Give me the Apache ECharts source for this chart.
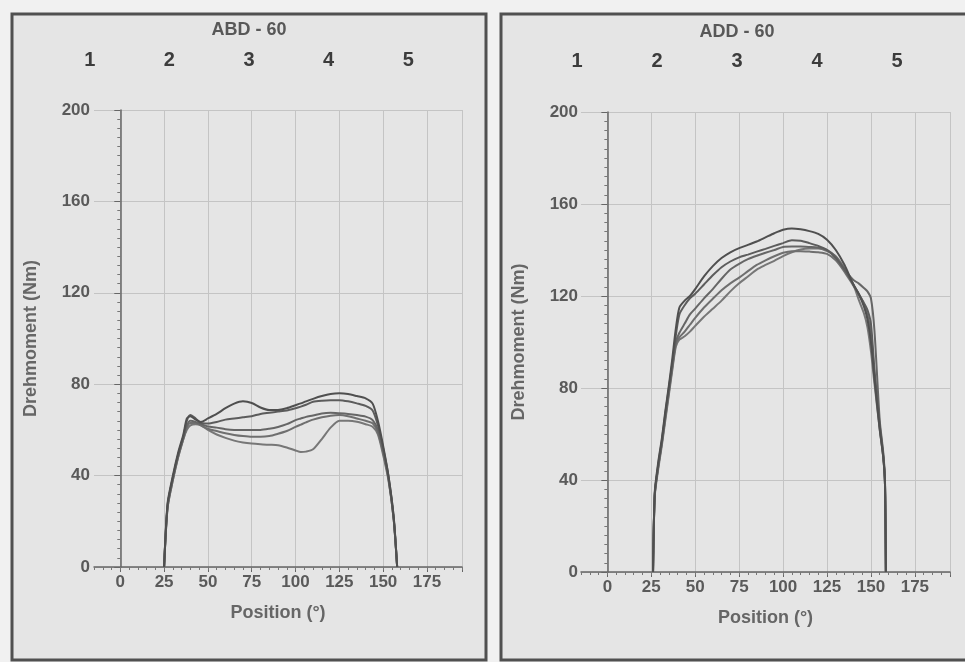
<!DOCTYPE html>
<html><head><meta charset="utf-8">
<script src="https://cdn.jsdelivr.net/npm/echarts@6/dist/echarts.min.js"></script>
<style>html,body{margin:0;padding:0;background:#f1f1f1}#c{width:965px;height:662px}</style>
</head><body><div id="c"></div>
<script>
// ---- tick labels / categories ----
const topLabels = ['1', '2', '3', '4', '5'];
const xTickValues = [0, 25, 50, 75, 100, 125, 150, 175];
const xGridValues = [0, 25, 50, 75, 100, 125, 150, 175, 195];
const titles = ['ABD - 60', 'ADD - 60'];

// ---- ABD - 60 : position (deg) and torque (Nm) of the 5 repetitions ----
const abdPos = [25,27,30,33,36,38,40,43,46,50,55,60,65,70,75,80,85,90,95,100,103,106,110,115,120,125,130,135,140,144,147,150,153,156,158];
const abd1 = [0,28,40,50,58,65,66,64.5,63.5,65,67,69.5,71.5,72.5,71.8,69.8,68.7,68.7,69.5,70.8,71.6,72.5,73.6,74.8,75.7,76,75.7,74.8,73.8,71.5,64,53,40,22,0];
const abd2 = [0,27,39,49,57,64,66.5,65,63,62.8,63.5,64.5,65,65.5,66,67,67.5,68,68.5,69.5,70.2,71,72.3,72.8,73,73,72.5,71.6,70.5,68.5,62,52,40,22,0];
const abd3 = [0,27,39,49,57,62,64,63.5,62.5,61.5,61,60.3,60,60,60,60,60.5,61.3,62.5,64.3,65,65.7,66.3,67.2,67.5,67.3,67,66.5,65.8,64.3,60,51,39,21,0];
const abd4 = [0,26,38,48,56,61,63,63,62,60.5,59.5,58.5,57.8,57.3,57,57,57.3,58.3,59.5,61.3,62.3,63.3,64.5,65.5,66.2,66.5,66,65,64,62.9,59,50,39,21,0];
const abd5 = [0,26,38,48,56,60,62,62.5,62,60,58,56.5,55.3,54.5,54,53.7,53.5,53.3,52.3,51,50.3,50.5,51.5,56,61,64,64,63.6,62.5,61.4,58,49,38,21,0];

// ---- ADD - 60 ----
const addPos = [26,27,29,31,33,35,37,39,41,44,47,50,55,60,65,70,75,80,85,90,95,100,105,110,115,120,125,130,135,140,143,146,148,150,152,155,157,158,158.5];
const add1 = [0,35,48,58,70,81,93,106,115,118,120,123,128.5,133,136.5,139,140.8,142.2,143.7,145.5,147.3,148.8,149.4,149,148.2,147,144.5,140,133.5,125,121,115.5,110,100,84,62,50,38,0];
const add2 = [0,34,47,57,69,80,91,103,112,116,119,121,125,129,132.5,135,136.8,138,139.3,140.5,141.8,143,144.2,144,143,141.8,140,136.5,131.5,125,121,117,114,108,88,64,51,39,0];
const add3 = [0,34,46,56,68,79,90,100,104,108,112,114.5,119,123,127.5,131.5,134,136,137.5,138.8,140,141.3,141.5,141.5,141.3,141,140,137,131.5,127,125.5,123.5,122,119,105,66,52,40,0];
const add4 = [0,34,46,56,67,78,89,99,102,104.5,107.5,110.5,115,118.8,122.5,125.5,128,130.8,133.5,135.5,137.3,138.8,139.5,139.5,139.3,139,138.3,135.5,130.5,124.5,121,116.5,112,104,86,63,50,38,0];
const add5 = [0,33,45,55,66,77,88,98,101,102.5,104.5,107,111,114.5,118,122,125.5,128.5,131.5,133.5,135.3,137.3,139,140.2,140.6,140.6,139.5,137.3,132,125,118.5,112.5,106.5,96,82,62,50,38,0];

const FONT = '"Liberation Sans", Arial, sans-serif';
const lineColors = ['#4f4f4f', '#5c5c5c', '#666666', '#6f6f6f', '#777777'];
const axisColor = '#666';
const gridColor = '#c4c4c4';
const labelColor = '#5a5a5a';

function pairs(pos, vals) { return pos.map((p, i) => [p, vals[i]]); }

function plotX(gridIndex) {
  return {
    gridIndex, type: 'value', min: -15, max: 195,
    axisLine: { onZero: true, lineStyle: { color: axisColor, width: 1.5 } },
    axisTick: { show: true, customValues: xGridValues, length: 5, lineStyle: { color: axisColor } },
    axisLabel: { customValues: xTickValues, margin: 7, fontSize: 17, fontWeight: 'bold', color: labelColor, fontFamily: FONT },
    splitLine: { show: true, lineStyle: { color: gridColor, width: 1 } },
    name: 'Position (°)', nameLocation: 'middle', nameGap: 37, nameMoveOverlap: false,
    nameTextStyle: { fontSize: 18, fontWeight: 'bold', color: '#666', fontFamily: FONT }
  };
}
function minorX(gridIndex) {
  return {
    gridIndex, type: 'value', min: -15, max: 195, interval: 5, position: 'bottom',
    axisLine: { show: false, onZero: false },
    axisTick: { show: true, length: 3, lineStyle: { color: '#777' } },
    axisLabel: { show: false }, splitLine: { show: false }
  };
}
function plotY(gridIndex, gap, margin) {
  return {
    gridIndex, type: 'value', min: 0, max: 200, interval: 40,
    axisLine: { show: true, onZero: true, lineStyle: { color: axisColor, width: 1.5 } },
    axisTick: { show: true, length: 6, lineStyle: { color: axisColor } },
    minorTick: { show: true, splitNumber: 10, length: 3, lineStyle: { color: '#777' } },
    axisLabel: { margin: margin, fontSize: 17, fontWeight: 'bold', color: labelColor, fontFamily: FONT },
    splitLine: { show: true, lineStyle: { color: gridColor, width: 1 } },
    name: 'Drehmoment (Nm)', nameLocation: 'middle', nameGap: gap, nameRotate: 90, nameMoveOverlap: false,
    nameTextStyle: { fontSize: 18, fontWeight: 'bold', color: '#666', fontFamily: FONT }
  };
}
function topX(gridIndex, title, gap) {
  return {
    gridIndex, type: 'category', data: topLabels, position: 'top', boundaryGap: true,
    axisLine: { show: false }, axisTick: { show: false },
    axisLabel: { margin: 2, fontSize: 20, fontWeight: 'bold', color: '#3c3c3c', fontFamily: FONT },
    splitLine: { show: false },
    name: title, nameLocation: 'middle', nameGap: gap, nameMoveOverlap: false,
    nameTextStyle: { fontSize: 18, fontWeight: 'bold', color: '#585858', fontFamily: FONT }
  };
}
function hiddenY(gridIndex) { return { gridIndex, type: 'value', show: false }; }

function lineSeries(xi, yi, pos, vals, k) {
  return {
    type: 'line', xAxisIndex: xi, yAxisIndex: yi, data: pairs(pos, vals),
    showSymbol: false, smooth: 0.25, animation: false,
    lineStyle: { color: lineColors[k], width: 2 }, z: 5
  };
}

const G = { containLabel: false, outerBoundsMode: 'none' };
const chart = echarts.init(document.getElementById('c'), null, { renderer: 'canvas' });
chart.setOption({
  backgroundColor: '#f1f1f1',
  animation: false,
  graphic: [
    { type: 'rect', z: -10, shape: { x: 12, y: 14, width: 474, height: 646 }, style: { fill: '#e5e5e5', stroke: '#505050', lineWidth: 3 } },
    { type: 'rect', z: -10, shape: { x: 501, y: 14, width: 474, height: 646 }, style: { fill: '#e5e5e5', stroke: '#505050', lineWidth: 3 } }
  ],
  grid: [
    Object.assign({ left: 94, right: 503, top: 110, bottom: 95 }, G),
    Object.assign({ left: 50, right: 517, top: 72, height: 1 }, G),
    Object.assign({ left: 581, right: 15, top: 112, bottom: 90 }, G),
    Object.assign({ left: 537, right: 28, top: 73, height: 1 }, G)
  ],
  xAxis: [
    plotX(0), minorX(0), topX(1, titles[0], 33),
    plotX(2), minorX(2), topX(3, titles[1], 32)
  ],
  yAxis: [
    plotY(0, 54, 4), hiddenY(1), plotY(2, 53, 3), hiddenY(3)
  ],
  series: [
    lineSeries(0, 0, abdPos, abd5, 4),
    lineSeries(0, 0, abdPos, abd4, 3),
    lineSeries(0, 0, abdPos, abd3, 2),
    lineSeries(0, 0, abdPos, abd2, 1),
    lineSeries(0, 0, abdPos, abd1, 0),
    lineSeries(3, 2, addPos, add5, 4),
    lineSeries(3, 2, addPos, add4, 3),
    lineSeries(3, 2, addPos, add3, 2),
    lineSeries(3, 2, addPos, add2, 1),
    lineSeries(3, 2, addPos, add1, 0)
  ]
});
</script>
</body></html>
